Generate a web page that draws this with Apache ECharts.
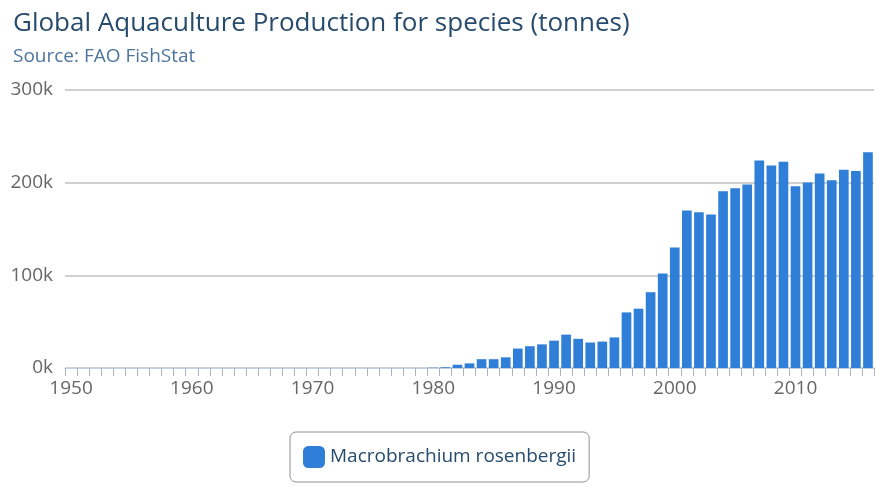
<!DOCTYPE html>
<html>
<head>
<meta charset="utf-8">
<script src="https://cdn.jsdelivr.net/npm/echarts@6/dist/echarts.min.js"></script>
<style>
  html, body { margin: 0; padding: 0; background: #fff; }
  #chart { width: 877px; height: 496px; }
</style>
</head>
<body>
<div id="chart"></div>
<script>
  // 年份 1950-2016
  var years = [];
  for (var y = 1950; y <= 2016; y++) years.push(String(y));

  // 1950-1979 没有产量
  var zeros1950to1979 = [0, 0, 0, 0, 0, 0, 0, 0, 0, 0,
                         0, 0, 0, 0, 0, 0, 0, 0, 0, 0,
                         0, 0, 0, 0, 0, 0, 0, 0, 0, 0];
  // 1980-2016 产量（吨）
  var production1980on = [300, 800, 3500, 5000, 9500, 9500, 11500, 21000, 23500, 25500,
                          29500, 36000, 31500, 27500, 28500, 33000, 60000, 64000, 81800, 102000,
                          130000, 170000, 168000, 165700, 190700, 194000, 198000, 224000, 218500, 222500,
                          196000, 200300, 210000, 202500, 214000, 212500, 232800];
  var production = zeros1950to1979.concat(production1980on);

  var yTicks = [0, 100000, 200000, 300000];

  var font = '"Open Sans", "DejaVu Sans", sans-serif';
  var myChart = echarts.init(document.getElementById('chart'));
  var option = {
    animation: false,
    title: {
      text: 'Global Aquaculture Production for species (tonnes)',
      subtext: 'Source: FAO FishStat',
      left: 8,
      top: 6,
      itemGap: 10,
      textStyle: { color: '#274b6d', fontSize: 26, fontWeight: 'normal', fontFamily: font },
      subtextStyle: { color: '#4d759e', fontSize: 19, fontFamily: font }
    },
    legend: {
      left: 290,
      top: 432,
      padding: [14, 13, 14, 13],
      borderColor: '#909090',
      borderWidth: 1,
      borderRadius: 6,
      itemWidth: 22,
      itemHeight: 22,
      itemGap: 10,
      icon: 'roundRect',
      textStyle: { color: '#274b6d', fontSize: 19, fontFamily: font },
      data: ['Macrobrachium rosenbergii']
    },
    grid: { left: 65, right: 3, top: 90, bottom: 128, containLabel: false },
    xAxis: {
      type: 'category',
      data: years,
      axisLine: { show: true, lineStyle: { color: '#c0d0e0' } },
      axisTick: { show: true, interval: 0, length: 8, lineStyle: { color: '#a8b4c4', width: 1 } },
      axisLabel: {
        interval: function (idx, val) { return Number(val) % 10 === 0; },
        color: '#666',
        fontSize: 19,
        fontFamily: font,
        margin: 11
      }
    },
    yAxis: {
      type: 'value',
      min: yTicks[0],
      max: yTicks[yTicks.length - 1],
      interval: 100000,
      axisLabel: {
        formatter: function (v) { return (v / 1000) + 'k'; },
        color: '#666',
        fontSize: 19,
        fontFamily: font,
        margin: 12,
        verticalAlign: 'middle',
        padding: [0, 0, 4, 0]
      },
      splitLine: { lineStyle: { color: '#c0c0c0', width: 1.5 } }
    },
    series: [{
      name: 'Macrobrachium rosenbergii',
      type: 'bar',
      data: production,
      barCategoryGap: '20%',
      itemStyle: { color: '#2f7ed8' }
    }]
  };
  myChart.setOption(option);
</script>
</body>
</html>
